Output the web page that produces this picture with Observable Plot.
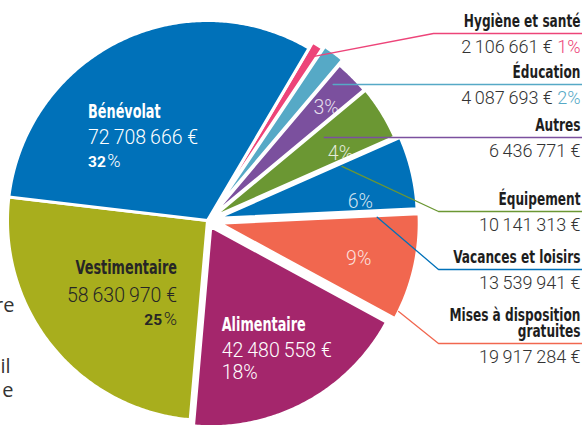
<!DOCTYPE html>
<html lang="fr"><head><meta charset="utf-8">
<script src="https://cdn.jsdelivr.net/npm/d3@7"></script>
<script src="https://cdn.jsdelivr.net/npm/@observablehq/plot@0.6"></script>
<style>html,body{margin:0;padding:0;background:#fff;overflow:hidden}</style>
</head><body><div id="chart"></div>
<script>
// ---- data ----
const categories = ["Hygiène et santé","Éducation","Autres","Équipement","Vacances et loisirs","Mises à disposition gratuites","Alimentaire","Vestimentaire","Bénévolat"];
const amounts = [2106661,4087693,6436771,10141313,13539941,19917284,42480558,58630970,72708666];
const fragments = ["re","il","e"];

// ---- styles / layout ----
const colors = ["#ed4479","#56a9c6","#7b509e","#6b9733","#0071b9","#f1674f","#a4266c","#a8ae1d","#0071b9"];
const W = 582, H = 425, CX = 207, CY = 220, R = 200;
const START = 30.5 * Math.PI / 180;
const explode = [7,10,4,5,10,12,7,0,0];
const legendY = [33,84,137,211,269,343];
const fragX = [14,10,13], fragY = [311,372,396];
const DARK = "#262626";
const COND = '"Liberation Sans Narrow","DejaVu Sans Condensed","Roboto Condensed",sans-serif';
const NUM = 'Roboto,"Open Sans",sans-serif';
const SQUEEZE = 0.75;

const total = d3.sum(amounts);
const data = categories.map((name,i)=>({name, amount: amounts[i], pct: Math.round(100*amounts[i]/total)}));
const fr = d3.formatLocale({decimal:",", thousands:"\u2009", grouping:[3], currency:["","\u00a0€"]});
const money = fr.format("$,d");
const arcs = d3.pie().sort(null).value(d=>d.amount).startAngle(START).endAngle(START+2*Math.PI)(data);
const dir = a => [Math.sin(a), -Math.cos(a)];
const slices = arcs.map((a,i)=>{
  const mid = (a.startAngle+a.endAngle)/2; const [ux,uy] = dir(mid);
  return {...a.data, i, a0:a.startAngle, a1:a.endAngle, mid, tx: CX+explode[i]*ux, ty: CY+explode[i]*uy};
});
const at = (s,a,r)=>{const [ux,uy]=dir(a); return {x:s.tx+r*ux, y:s.ty+r*uy};};
const polys = slices.flatMap(s=>{
  const n = Math.max(2, Math.ceil((s.a1-s.a0)/0.01));
  const pts = [{name:s.name, x:s.tx, y:s.ty}];
  for (let k=0;k<=n;k++){ const p = at(s, s.a0+(s.a1-s.a0)*k/n, R); pts.push({name:s.name, ...p}); }
  return pts;
});

// big slice labels
const bigLayout = {
  "Bénévolat":    {dx:-75,  dy:[-13,13,36], anchor:"start", fill:"#fff", pctBold:true},
  "Vestimentaire":{dx:47,   dy:[-10,18,41], anchor:"end",   fill:DARK,   pctBold:true},
  "Alimentaire":  {dx:-36.5,dy:[16,42,64],  anchor:"start", fill:"#fff", pctBold:false}
};
const big = slices.filter(s=>bigLayout[s.name]).map(s=>{const c=at(s,s.mid,R*0.5); return {...s, bx:c.x+bigLayout[s.name].dx, by:c.y, L:bigLayout[s.name]};});

// small percent labels inside slices (angle shift in radians, radius fraction)
const innerLayout = {"Autres":[0.02,0.8], "Équipement":[0.09,0.72], "Vacances et loisirs":[0.12,0.72], "Mises à disposition gratuites":[0.026,0.72]};
const inner = slices.filter(s=>innerLayout[s.name]).map(s=>({...s, ...at(s, s.mid+innerLayout[s.name][0], R*innerLayout[s.name][1])}));

// legend rows
const legendSlices = slices.filter(s=>!bigLayout[s.name]).map((s,j)=>({...s, Y: legendY[j], label: s.name.replace(" disposition ", " disposition\n")}));
const leaderSpec = [{ang:"mid",r:0.93,knee:433},{flat:0.05},{flat:0.08},{ang:"end",r:0.7,knee:438},{ang:"end",r:0.8,knee:438},{ang:"endIn",r:1,knee:438}];
const leaders = legendSlices.flatMap((s,j)=>{
  const sp = leaderSpec[j];
  if (sp.flat){
    const a = s.a1+sp.flat; const t = (s.Y - s.ty)/(-Math.cos(a));
    return [{name:s.name, x:s.tx+t*Math.sin(a), y:s.Y},{name:s.name, x:W, y:s.Y}];
  }
  const a = sp.ang==="mid" ? s.mid : sp.ang==="end" ? s.a1+0.04 : s.a1-0.04;
  const p = at(s,a,R*sp.r);
  return [{name:s.name, ...p},{name:s.name, x:sp.knee, y:s.Y},{name:s.name, x:W, y:s.Y}];
});

const bigMarks = big.flatMap(b=>[
  Plot.text([b], {x:"bx", y:d=>d.by+b.L.dy[0], text:"name", textAnchor:b.L.anchor, lineAnchor:"bottom", fill:b.L.fill, fontFamily:COND, fontWeight:"bold", fontSize:19}),
  Plot.text([b], {x:"bx", y:d=>d.by+b.L.dy[1], text:d=>money(d.amount), textAnchor:b.L.anchor, lineAnchor:"bottom", fill:b.L.fill, fontFamily:NUM, fontWeight:300, fontSize:19.5}),
  Plot.text([b], {x:"bx", y:d=>d.by+b.L.dy[2], text:d=>d.pct+"%", textAnchor:b.L.anchor, lineAnchor:"bottom", fill:b.L.fill, fontFamily:NUM, fontWeight:b.L.pctBold?700:300, fontSize:b.L.pctBold?15.5:19.5})
]);

const chart = Plot.plot({
  width: W, height: H, margin: 0,
  x: {domain:[0,W], range:[0,W], axis:null},
  y: {domain:[0,H], range:[0,H], axis:null},
  color: {domain: categories, range: colors},
  style: {background:"#fff", overflow:"visible"},
  marks: [
    Plot.line(polys, {x:"x", y:"y", z:"name", fill:"name", stroke:"#fff", strokeWidth:3, strokeLinejoin:"round", curve:"linear-closed"}),
    Plot.line(leaders, {x:"x", y:"y", z:"name", stroke:"name", strokeWidth:1.3}),
    ...bigMarks,
    Plot.text(inner, {x:"x", y:"y", text:d=>d.pct+"%", fill:"#fff", fillOpacity:0.82, fontFamily:NUM, fontWeight:300, fontSize:19.5}),
    Plot.text(legendSlices, {x:W-2, y:d=>d.Y-7, text:"label", textAnchor:"end", lineAnchor:"bottom", lineHeight:0.85, fill:"#1e1e1e", fontFamily:COND, fontWeight:"bold", fontSize:18}),
    Plot.text(legendSlices, {x:W-2, y:d=>d.Y+19, text:d=>money(d.amount), textAnchor:"end", lineAnchor:"bottom", fill:"#333", fontFamily:NUM, fontWeight:300, fontSize:18}),
    Plot.text(fragments, {x:(d,i)=>fragX[i], y:(d,i)=>fragY[i], text:d=>d, textAnchor:"end", lineAnchor:"bottom", fill:"#333", fontFamily:'"Open Sans",sans-serif', fontSize:20})
  ]
});
document.getElementById("chart").appendChild(chart);

// mixed-weight / mixed-colour texts
const NS = "http://www.w3.org/2000/svg";
function mix(t, parts){ t.textContent=""; parts.forEach(p=>{const s=document.createElementNS(NS,"tspan"); s.textContent=p.text; if(p.weight) s.setAttribute("font-weight",p.weight); if(p.fill) s.setAttribute("fill",p.fill); if(p.size) s.setAttribute("font-size",p.size); if(p.dx) s.setAttribute("dx",p.dx); t.appendChild(s);}); }
const boldPct = new Set(big.filter(b=>b.L.pctBold).map(b=>b.pct+"%"));
const legVals = new Map(legendSlices.filter(s=>s.pct<3).map(s=>[money(s.amount), s]));
chart.querySelectorAll("text").forEach(t=>{
  const c = t.textContent;
  if (t.querySelector("tspan")) return;
  if (boldPct.has(c)) mix(t, [{text:c.replace("%","")},{text:"%", weight:300, size:18, dx:1.5}]);
  else if (legVals.has(c)) { const s = legVals.get(c); mix(t, [{text:c+" "},{text:s.pct+"%", fill:colors[s.i]}]); }
});
// condensed look for the bold labels
chart.querySelectorAll('g[font-weight="bold"] text').forEach(t=>{
  const spans = t.querySelectorAll("tspan");
  const els = spans.length ? Array.from(spans) : [t];
  els.forEach(el=>{ const w = el.getComputedTextLength(); el.setAttribute("textLength", (w*SQUEEZE).toFixed(1)); el.setAttribute("lengthAdjust","spacingAndGlyphs"); });
});
</script>
</body></html>
